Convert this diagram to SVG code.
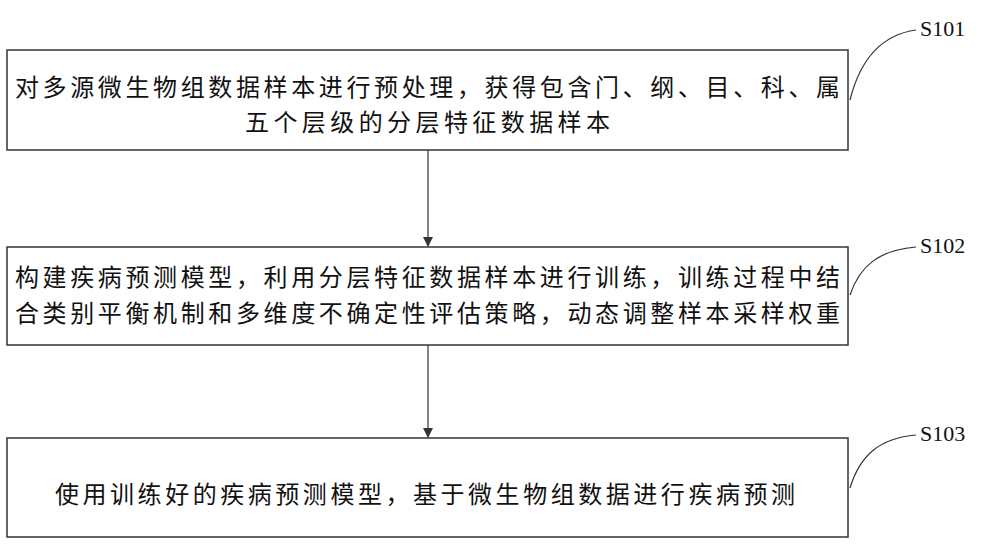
<svg xmlns="http://www.w3.org/2000/svg" width="1000" height="546" viewBox="0 0 1000 546">
<defs><marker id="a" markerWidth="10" markerHeight="10" refX="9" refY="5" orient="auto" markerUnits="userSpaceOnUse"><path d="M0,0 L10,5 L0,10 z" fill="#333"/></marker></defs>
<style>
.b{fill:#fff;stroke:#333;stroke-width:1.5}
.t{font-family:"Noto Sans CJK SC",sans-serif;font-size:24px;fill:#111}
.l{font-family:"Liberation Serif",serif;font-size:22px;fill:#111}
.c{fill:none;stroke:#333;stroke-width:1.2}
</style>
<rect width="1000" height="546" fill="#fff"/>
<g id="n1"><rect class="b" x="7" y="50" width="841" height="100"/><text class="t" x="15" y="96" textLength="825" lengthAdjust="spacing">对多源微生物组数据样本进行预处理，获得包含门、纲、目、科、属</text><text class="t" x="245" y="131" textLength="365" lengthAdjust="spacing">五个层级的分层特征数据样本</text></g>
<g id="n2"><rect class="b" x="7" y="247" width="841" height="98"/><text class="t" x="15" y="286" textLength="825" lengthAdjust="spacing">构建疾病预测模型，利用分层特征数据样本进行训练，训练过程中结</text><text class="t" x="15" y="322" textLength="825" lengthAdjust="spacing">合类别平衡机制和多维度不确定性评估策略，动态调整样本采样权重</text></g>
<g id="n3"><rect class="b" x="7" y="438" width="841" height="99"/><text class="t" x="55" y="503" textLength="740" lengthAdjust="spacing">使用训练好的疾病预测模型，基于微生物组数据进行疾病预测</text></g>
<g id="lab"><text class="l" x="920" y="36">S101</text><text class="l" x="920" y="253">S102</text><text class="l" x="920" y="441">S103</text></g>
<g id="connectors">
<line class="c" x1="428" y1="150" x2="428" y2="246" marker-end="url(#a)"/>
<line class="c" x1="428" y1="345" x2="428" y2="437" marker-end="url(#a)"/>
<path class="c" d="M850,100 C860,60 880,35 916,30"/>
<path class="c" d="M850,295 C860,265 880,250 916,247"/>
<path class="c" d="M850,488 C860,455 880,438 916,435"/>
</g>
</svg>
